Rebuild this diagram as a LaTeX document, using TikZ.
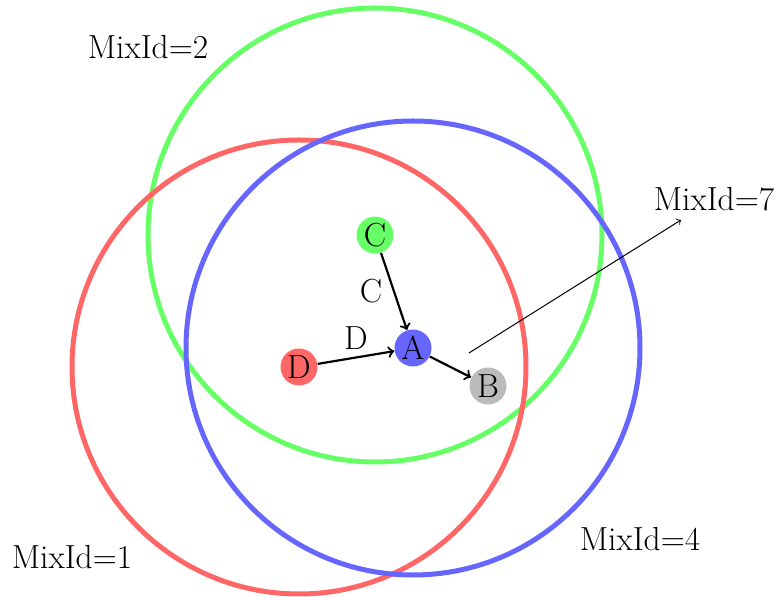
\documentclass[tikz,border=0pt]{standalone}
\usepackage{fontspec}
\begin{document}
\begin{tikzpicture}[x=0.5pt,y=-0.5pt,
  every node/.style={font=\fontsize{16.7}{19}\selectfont},
  ring/.style={line width=2.5pt},
  dot/.style={circle, minimum size=18.5pt, inner sep=0pt},
  link/.style={->, line width=1.1pt},
  pointer/.style={->, line width=0.5pt},
  tag/.style={inner sep=0pt}]
\useasboundingbox (0,0) rectangle (778,597);
\definecolor{cgreen}{HTML}{66FF66}
\definecolor{cred}{HTML}{FF6666}
\definecolor{cblue}{HTML}{6666FF}
\definecolor{cgray}{HTML}{BBBBBB}
\draw[ring, cgreen] (375,235) circle[radius=113.5pt];
\draw[ring, cred] (299,367) circle[radius=113.5pt];
\draw[ring, cblue] (413,348) circle[radius=113.5pt];
\node[dot, fill=cblue] (A) at (413,348) {A};
\node[dot, fill=cgray] (B) at (488,386) {B};
\node[dot, fill=cgreen] (C) at (375,235) {C};
\node[dot, fill=cred] (D) at (299,367) {D};
\draw[link] (C) -- node[midway, left, xshift=-2pt] {C} (A);
\draw[link] (D) -- node[midway, above] {D} (A);
\draw[link] (A) -- (B);
\node[tag] (m2) at (148,47) {MixId=2};
\node[tag] (m1) at (72,557) {MixId=1};
\node[tag] (m4) at (640,539) {MixId=4};
\node[tag] (m7) at (714,199) {MixId=7};
\coordinate (p0) at (469,353);
\coordinate (p1) at (681,220);
\draw[pointer] (p0) -- (p1);
\end{tikzpicture}
\end{document}
